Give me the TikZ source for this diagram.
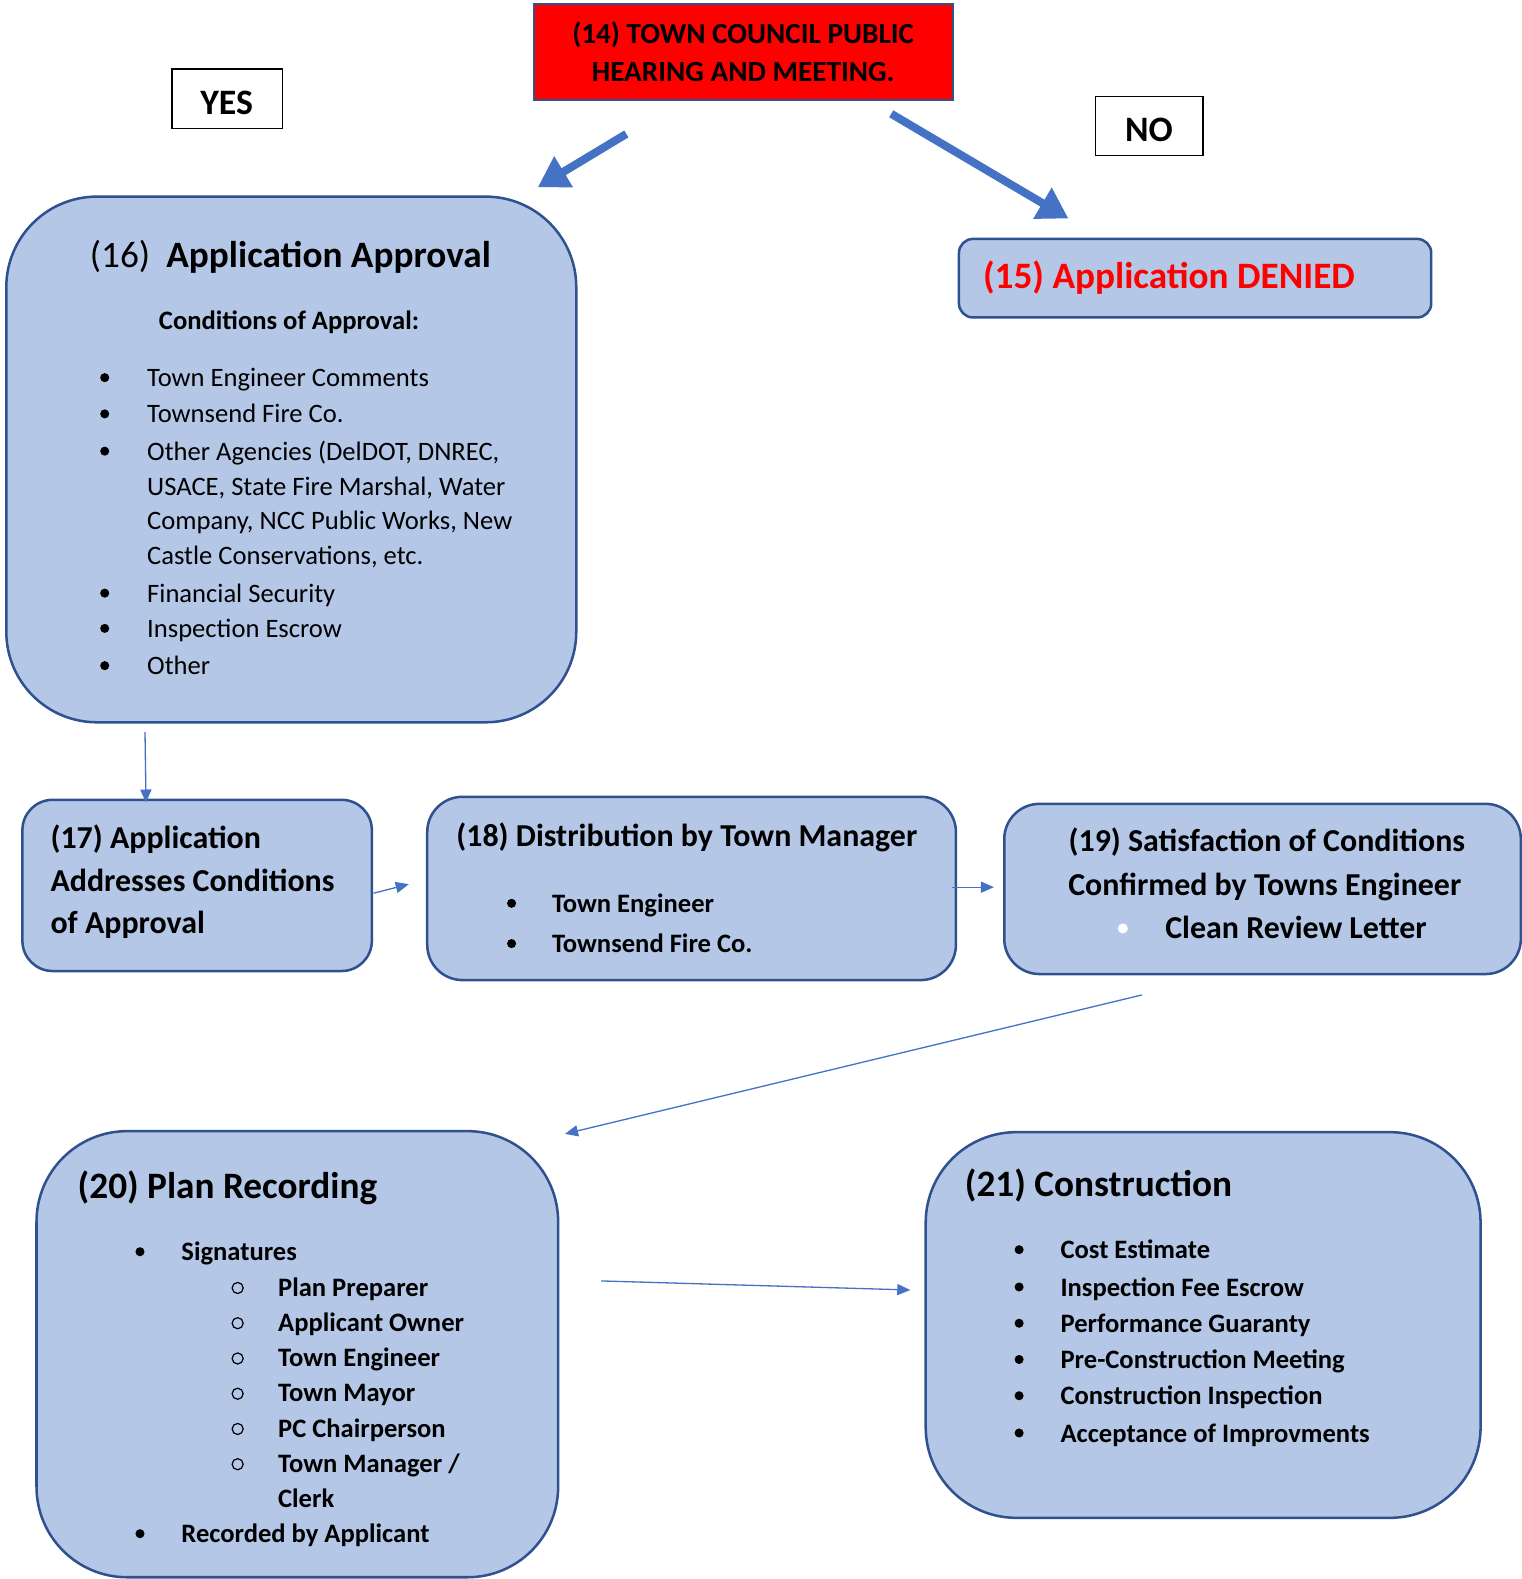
\documentclass[tikz,border=0pt]{standalone}
\usepackage{fontspec}
\setmainfont{Carlito}
\usetikzlibrary{arrows.meta}
\definecolor{boxfill}{HTML}{B4C7E7}
\definecolor{boxline}{HTML}{2F528F}
\definecolor{arrowblue}{HTML}{4472C4}
\definecolor{deniedred}{HTML}{FF0000}
\begin{document}
\begin{tikzpicture}[x=1pt,y=-1pt,
  box/.style={draw=boxline, fill=boxfill, line width=2.5pt, anchor=north west, inner sep=0pt},
  tl/.style={anchor=base west, inner sep=0pt},
  tc/.style={anchor=base, inner sep=0pt},
  big/.style={font=\fontsize{37}{44}\selectfont\bfseries},
  bigr/.style={font=\fontsize{37}{44}\selectfont},
  mid/.style={font=\fontsize{31.7}{38}\selectfont\bfseries},
  item/.style={font=\fontsize{26.4}{32}\selectfont\bfseries},
  itemr/.style={font=\fontsize{26.4}{32}\selectfont},
  dot/.style={circle, fill=black, inner sep=0pt, minimum size=9pt},
  wdot/.style={circle, fill=white, inner sep=0pt, minimum size=10pt},
  odot/.style={circle, draw=black, line width=1.2pt, inner sep=0pt, minimum size=11pt},
  thick arrow/.style={draw=arrowblue, line width=8pt, -{Triangle[width=34pt,length=30pt]}},
  thin arrow/.style={draw=arrowblue, line width=1.3pt, -{Triangle[width=11pt,length=13pt]}},
  tag/.style={draw=black, line width=1.3pt, anchor=north west, inner sep=0pt},
  tagtext/.style={anchor=base, inner sep=0pt, font=\fontsize{35.5}{42}\selectfont\bfseries}
]
\useasboundingbox (0,0) rectangle (1511,1568);
\fill[white] (0,0) rectangle (1511,1568);

% (14) red box
\node[draw=boxline, fill=deniedred, line width=2pt, anchor=north west, inner sep=0pt,
  minimum width=416pt, minimum height=95pt, align=center,
  font=\fontsize{29}{38}\selectfont\bfseries] (b14) at (529,3)
  {(14) TOWN COUNCIL PUBLIC\\HEARING AND MEETING.};

% YES / NO tags
\node[tag, minimum width=110pt, minimum height=59pt] (yes) at (170,68) {};
\node[tagtext] (yestxt) at (225,114) {YES};
\node[tag, minimum width=107pt, minimum height=59pt] (no) at (1087,95) {};
\node[tagtext] (notxt) at (1141,141) {NO};

% thick arrows
\coordinate (ya) at (622,133);
\coordinate (yb) at (534,186);
\coordinate (na) at (885,113);
\coordinate (nb) at (1061,217);
\draw[thick arrow] (ya) -- (yb);
\draw[thick arrow] (na) -- (nb);

% (15) denied
\node[box, rounded corners=14pt, minimum width=469pt, minimum height=78pt] (b15) at (951,236) {};
\node[tl, big, text=deniedred] (t15) at (976,286) {(15) Application DENIED};

% (16) approval
\node[box, rounded corners=90pt, minimum width=566pt, minimum height=522pt] (b16) at (5,194) {};
\node[tl, bigr] (t16a) at (89,266) {(16)};
\node[tl, big] (t16b) at (165,266) {Application Approval};
\node[tc, font=\fontsize{26.4}{32}\selectfont\bfseries] (t16c) at (287,327) {Conditions of Approval:};
\node[dot] (d161) at (104,375) {};
\node[dot] (d162) at (104,411) {};
\node[dot] (d163) at (104,448) {};
\node[dot] (d164) at (104,589) {};
\node[dot] (d165) at (104,624) {};
\node[dot] (d166) at (104,661) {};
\node[tl, itemr] (i161) at (146,384) {Town Engineer Comments};
\node[tl, itemr] (i162) at (146,420) {Townsend Fire Co.};
\node[tl, itemr] (i163) at (146,457) {Other Agencies (DelDOT, DNREC,};
\node[tl, itemr] (i164) at (146,492) {USACE, State Fire Marshal, Water};
\node[tl, itemr] (i165) at (146,526) {Company, NCC Public Works, New};
\node[tl, itemr] (i166) at (146,561) {Castle Conservations, etc.};
\node[tl, itemr] (i167) at (146,598) {Financial Security};
\node[tl, itemr] (i168) at (146,633) {Inspection Escrow};
\node[tl, itemr] (i169) at (146,670) {Other};

% (17)
\node[box, rounded corners=30pt, minimum width=347pt, minimum height=170pt] (b17) at (21,793) {};
\node[tl, mid] (t171) at (50,843) {(17) Application};
\node[tl, mid] (t172) at (50,885) {Addresses Conditions};
\node[tl, mid] (t173) at (50,927) {of Approval};

% (18)
\node[box, rounded corners=35pt, minimum width=525pt, minimum height=182pt] (b18) at (423,790) {};
\node[tl, mid] (t18) at (453,841) {(18) Distribution by Town Manager};
\node[dot] (d181) at (508,897) {};
\node[dot] (d182) at (508,937) {};
\node[tl, item] (i181) at (548,906) {Town Engineer};
\node[tl, item] (i182) at (548,946) {Townsend Fire Co.};

% (19)
\node[box, rounded corners=35pt, minimum width=513pt, minimum height=169pt] (b19) at (996,797) {};
\node[tc, mid] (t191) at (1258,846) {(19) Satisfaction of Conditions};
\node[tc, mid] (t192) at (1256,889) {Confirmed by Towns Engineer};
\node[wdot] (d191) at (1115,922) {};
\node[tl, mid] (t193) at (1157,932) {Clean Review Letter};

% (20)
\node[box, rounded corners=90pt, minimum width=518pt, minimum height=443pt] (b20) at (35,1122) {};
\node[tl, big] (t20) at (77,1190) {(20) Plan Recording};
\node[dot] (d201) at (139,1243) {};
\node[tl, item] (i201) at (180,1252) {Signatures};
\node[odot] (o201) at (236,1279) {};
\node[odot] (o202) at (236,1314) {};
\node[odot] (o203) at (236,1349) {};
\node[odot] (o204) at (236,1384) {};
\node[odot] (o205) at (236,1419) {};
\node[odot] (o206) at (236,1454) {};
\node[tl, item] (i202) at (276,1287) {Plan Preparer};
\node[tl, item] (i203) at (276,1322) {Applicant Owner};
\node[tl, item] (i204) at (276,1357) {Town Engineer};
\node[tl, item] (i205) at (276,1392) {Town Mayor};
\node[tl, item] (i206) at (276,1427) {PC Chairperson};
\node[tl, item] (i207) at (276,1462) {Town Manager /};
\node[tl, item] (i208) at (276,1497) {Clerk};
\node[dot] (d202) at (139,1523) {};
\node[tl, item] (i209) at (180,1532) {Recorded by Applicant};

% (21)
\node[box, rounded corners=90pt, minimum width=551pt, minimum height=383pt] (b21) at (918,1123) {};
\node[tl, big] (t21) at (958,1188) {(21) Construction};
\node[dot] (d211) at (1012,1241) {};
\node[dot] (d212) at (1012,1278) {};
\node[dot] (d213) at (1012,1314) {};
\node[dot] (d214) at (1012,1350) {};
\node[dot] (d215) at (1012,1386) {};
\node[dot] (d216) at (1012,1423) {};
\node[tl, item] (i211) at (1053,1250) {Cost Estimate};
\node[tl, item] (i212) at (1053,1287) {Inspection Fee Escrow};
\node[tl, item] (i213) at (1053,1323) {Performance Guaranty};
\node[tl, item] (i214) at (1053,1359) {Pre-Construction Meeting};
\node[tl, item] (i215) at (1053,1395) {Construction Inspection};
\node[tl, item] (i216) at (1053,1432) {Acceptance of Improvments};

% thin connectors
\coordinate (a1) at (144,727);
\coordinate (a2) at (145,797);
\coordinate (c1) at (371,887);
\coordinate (c2) at (406,878);
\coordinate (e1) at (945,881);
\coordinate (e2) at (987,881);
\coordinate (f1) at (1134,988);
\coordinate (f2) at (561,1126);
\coordinate (g1) at (597,1272);
\coordinate (g2) at (904,1281);
\draw[thin arrow] (a1) -- (a2);
\draw[thin arrow] (c1) -- (c2);
\draw[thin arrow] (e1) -- (e2);
\draw[thin arrow] (f1) -- (f2);
\draw[thin arrow] (g1) -- (g2);
\end{tikzpicture}
\end{document}
